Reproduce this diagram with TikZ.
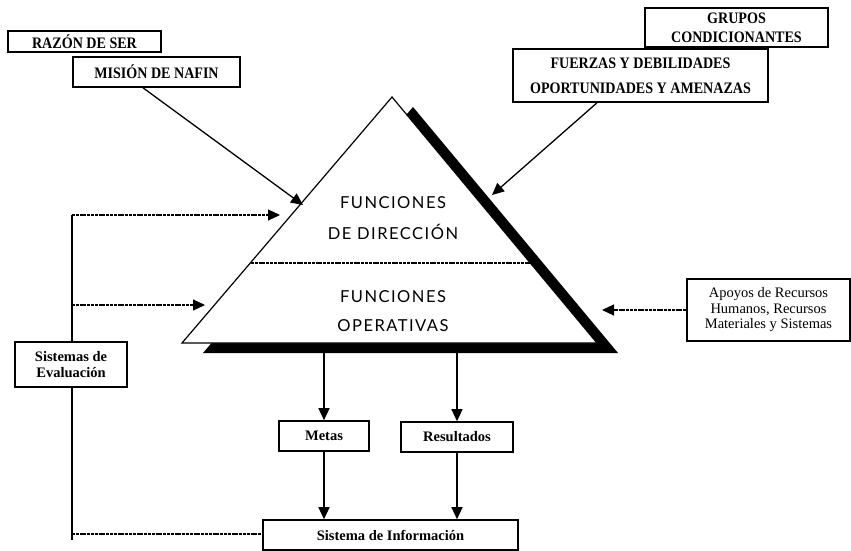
\documentclass[tikz,border=0pt]{standalone}
\usepackage{fontspec}
\setmainfont{Liberation Serif}
\newfontfamily\condfont[FakeStretch=0.88]{Liberation Serif}
\newfontfamily\trifont[LetterSpace=9]{Lato}
\usetikzlibrary{arrows.meta}
\begin{document}
\begin{tikzpicture}[x=1pt,y=-1pt,
  box/.style={draw,line width=1.6pt,inner sep=0pt,align=center,font=\bfseries\fontsize{14.5}{16}\selectfont},
  capbox/.style={box,font=\condfont\bfseries\fontsize{16}{18}\selectfont},
  plainbox/.style={draw,line width=1.6pt,inner sep=0pt,align=center,font=\fontsize{14.5}{15.5}\selectfont},
  conn/.style={line width=1.3pt,-{Triangle[length=12pt,width=11pt]}},
  dotconn/.style={line width=1.1pt,dash pattern=on 3pt off 0.8pt,-{Triangle[length=12pt,width=11pt]}},
  dotline/.style={line width=1.1pt,dash pattern=on 3pt off 0.8pt},
  tritext/.style={font=\trifont\fontsize{16.5}{18}\selectfont}]
\useasboundingbox (0,0) rectangle (851,551);
\fill[white] (0,0) rectangle (851,551);
% pyramid with shadow
\fill[black] (413,107) -- (618,353) -- (203,353) -- cycle;
\draw[line width=1.2pt,fill=white,line join=miter] (392,97) -- (597,343) -- (182,343) -- cycle;
\draw[dotline] (251,263) -- (530,263);
\node[tritext] (f1) at (393,203) {FUNCIONES};
\node[tritext] (f2) at (393,232) {DE DIRECCIÓN};
\node[tritext] (f3) at (393,297) {FUNCIONES};
\node[tritext] (f4) at (393,326) {OPERATIVAS};
% boxes
\node[capbox,minimum width=153pt,minimum height=21pt] (razon) at (84.5,41.5) {RAZÓN DE SER};
\node[capbox,minimum width=167pt,minimum height=30pt] (mision) at (156.5,72) {MISIÓN DE NAFIN};
\node[capbox,font=\condfont\bfseries\fontsize{16}{19}\selectfont,minimum width=183pt,minimum height=39pt] (grupos) at (736.5,27.5) {GRUPOS\\CONDICIONANTES};
\node[capbox,font=\condfont\bfseries\fontsize{16}{25}\selectfont,minimum width=255pt,minimum height=53pt] (fuerzas) at (640.5,75.5) {FUERZAS Y DEBILIDADES\\OPORTUNIDADES Y AMENAZAS};
\node[plainbox,minimum width=163pt,minimum height=62pt] (apoyos) at (768.5,310) {Apoyos de Recursos\\Humanos, Recursos\\Materiales y Sistemas};
\node[box,minimum width=112pt,minimum height=45pt] (eval) at (71,364.5) {Sistemas de\\Evaluación};
\node[box,minimum width=90pt,minimum height=30pt] (metas) at (324,436) {Metas};
\node[box,minimum width=112pt,minimum height=30pt] (result) at (457,437) {Resultados};
\node[box,minimum width=255pt,minimum height=30pt] (info) at (390.5,535) {Sistema de Información};
% named free ends
\coordinate (tdir) at (303,205);
\coordinate (tfz) at (492,195);
\coordinate (ltop) at (72,215);
\coordinate (lmid) at (72,305);
\coordinate (lbot) at (72,534);
\coordinate (lend) at (72,540);
\coordinate (ain1) at (280,215);
\coordinate (ain2) at (205,305);
\coordinate (aapo) at (602,310);
\coordinate (pm) at (324,353);
\coordinate (pr) at (457,353);
% connectors
\draw[conn] ([xshift=-13.5pt]mision.south) -- (tdir);
\draw[conn] ([xshift=-43.5pt]fuerzas.south) -- (tfz);
\draw[line width=1.1pt] (ltop) -- (ltop |- eval.north);
\draw[line width=1.1pt] (eval.south -| ltop) -- (lend);
\draw[dotconn] (ltop) -- (ain1);
\draw[dotconn] (lmid) -- (ain2);
\draw[dotline] (lbot) -- (lbot -| info.west);
\draw[dotconn] (apoyos.west) -- (aapo);
\draw[conn] (pm) -- (metas.north);
\draw[conn] (pr) -- (result.north);
\draw[conn] (metas.south) -- (metas.south |- info.north);
\draw[conn] (result.south) -- (result.south |- info.north);
\end{tikzpicture}
\end{document}
